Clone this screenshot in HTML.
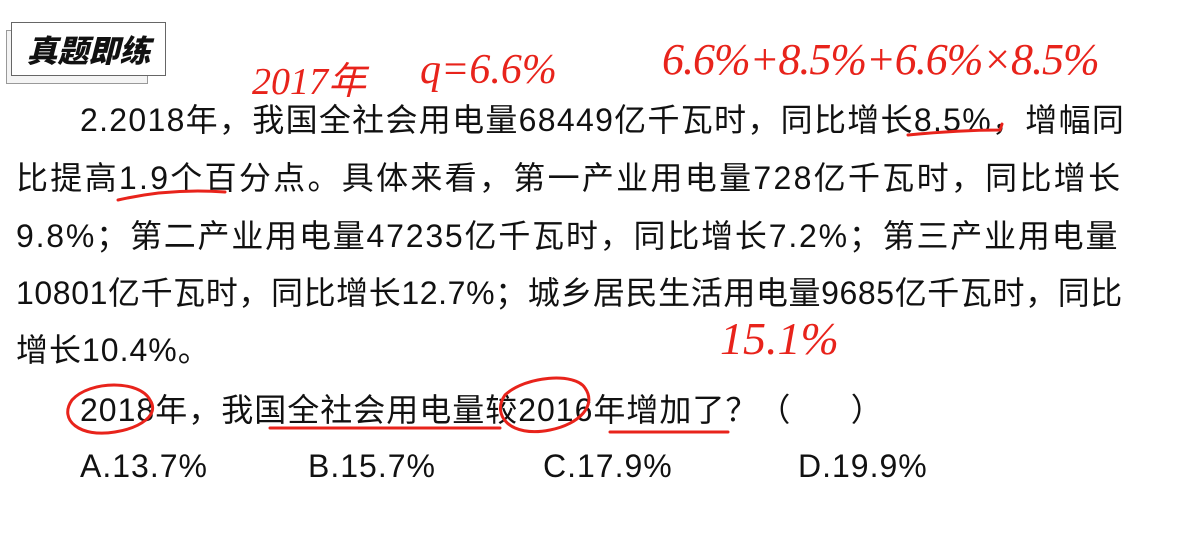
<!DOCTYPE html>
<html><head><meta charset="utf-8"><style>
html,body{margin:0;padding:0;background:#fff;}
#page{position:relative;width:1196px;height:558px;overflow:hidden;background:#fff;font-family:"Liberation Sans","Noto Sans CJK SC",sans-serif;color:#111;}
.ln{position:absolute;font-size:32px;line-height:40px;white-space:nowrap;}
.hw{position:absolute;color:#e8231b;font-family:"Liberation Serif","Noto Sans CJK SC",serif;font-style:italic;white-space:nowrap;}
</style></head><body>
<div id="page">
 <div style="position:absolute;left:6px;top:30px;width:140px;height:52px;border:1px solid #999;background:#f4f4f4;"></div>
 <div style="position:absolute;left:11px;top:22px;width:153px;height:52px;border:1px solid #666;background:#fff;font-family:'Noto Sans CJK SC',sans-serif;font-weight:900;font-style:italic;font-size:31px;line-height:52px;text-align:center;">真题即练</div>

 <div class="ln" style="left:80px;top:100px;letter-spacing:1.3px">2.2018年，我国全社会用电量68449亿千瓦时，同比增长8.5%，增幅同</div>
 <div class="ln" style="left:16px;top:158px;letter-spacing:2.3px">比提高1.9个百分点。具体来看，第一产业用电量728亿千瓦时，同比增长</div>
 <div class="ln" style="left:16px;top:216px;letter-spacing:1.8px">9.8%；第二产业用电量47235亿千瓦时，同比增长7.2%；第三产业用电量</div>
 <div class="ln" style="left:16px;top:273px;letter-spacing:0.6px">10801亿千瓦时，同比增长12.7%；城乡居民生活用电量9685亿千瓦时，同比</div>
 <div class="ln" style="left:16px;top:330px;letter-spacing:1px">增长10.4%。</div>
 <div class="ln" style="left:80px;top:390px;letter-spacing:1px">2018年，我国全社会用电量较2016年增加了？（&nbsp;&nbsp;&nbsp;&nbsp;&nbsp;&nbsp;）</div>
 <div class="ln" style="left:80px;top:446px;letter-spacing:1px">A.13.7%</div>
 <div class="ln" style="left:308px;top:446px;letter-spacing:1px">B.15.7%</div>
 <div class="ln" style="left:543px;top:446px;letter-spacing:1px">C.17.9%</div>
 <div class="ln" style="left:798px;top:446px;letter-spacing:1px">D.19.9%</div>

 <div class="hw" style="left:252px;top:50px;font-size:38px;">2017年</div>
 <div class="hw" style="left:420px;top:46px;font-size:42px;">q=6.6%</div>
 <div class="hw" style="left:662px;top:34px;font-size:44px;letter-spacing:-1px">6.6%+8.5%+6.6%×8.5%</div>
 <div class="hw" style="left:720px;top:312px;font-size:46px;">15.1%</div>

 <svg width="1196" height="558" style="position:absolute;left:0;top:0">
  <g fill="none" stroke="#e8231b" stroke-width="3" stroke-linecap="round">
   <path d="M908 135 Q960 130 1000 130 L1002 124"/>
   <path d="M118 200 Q170 188 225 192"/>
   <path d="M150 400 C140 380 90 380 72 400 C58 420 80 438 115 432 C140 428 160 415 150 400"/>
   <path d="M270 428 L500 428"/>
   <path d="M585 388 C575 372 525 376 505 395 C491 415 510 438 550 430 C580 424 597 405 585 388"/>
   <path d="M610 432 L728 432"/>
  </g>
 </svg>
</div>
</body></html>
